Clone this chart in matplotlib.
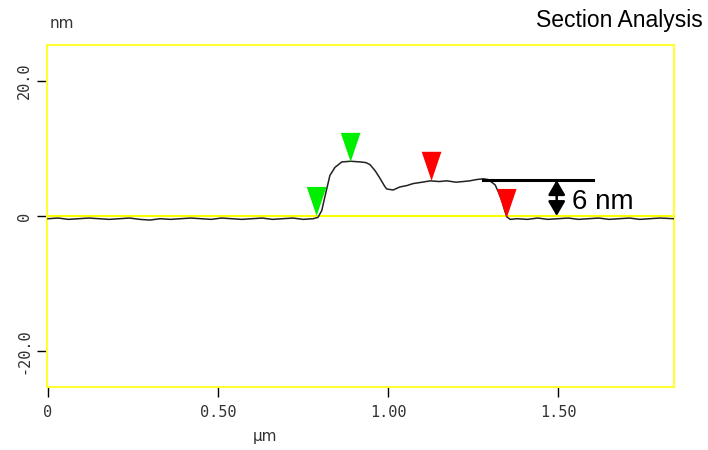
import matplotlib
matplotlib.use("Agg")
import matplotlib.pyplot as plt
from matplotlib.patches import Polygon

# ---- data ----
pos_um = [0.00, 0.03, 0.06, 0.09, 0.12, 0.15, 0.18, 0.21, 0.24, 0.27, 0.30, 0.33, 0.36,
          0.39, 0.42, 0.45, 0.48, 0.51, 0.54, 0.57, 0.60, 0.63, 0.66, 0.69, 0.72, 0.75, 0.78,
          0.794, 0.805, 0.815, 0.829, 0.844, 0.864, 0.89, 0.918, 0.935, 0.947, 0.962, 0.976,
          0.99, 0.996, 1.015, 1.035, 1.055, 1.074, 1.10, 1.124, 1.15, 1.173, 1.20, 1.221,
          1.24, 1.261, 1.28, 1.294, 1.305, 1.315, 1.325, 1.334, 1.342, 1.349, 1.359,
          1.38, 1.41, 1.44, 1.47, 1.50, 1.53, 1.56, 1.59, 1.62, 1.65, 1.68, 1.71, 1.74,
          1.77, 1.80, 1.84]
height_nm = [-0.4, -0.3, -0.5, -0.4, -0.3, -0.4, -0.5, -0.4, -0.3, -0.5, -0.6, -0.4, -0.5,
             -0.4, -0.3, -0.4, -0.5, -0.3, -0.4, -0.5, -0.4, -0.3, -0.5, -0.4, -0.3, -0.5, -0.4,
             -0.2, 0.8, 3.0, 6.0, 7.2, 8.0, 8.1, 8.0, 7.9, 7.6, 6.7, 5.6,
             4.4, 4.0, 3.85, 4.3, 4.5, 4.8, 5.0, 5.2, 5.1, 5.2, 5.0, 5.1,
             5.2, 5.4, 5.5, 5.4, 5.0, 4.6, 3.5, 2.4, 1.0, -0.1, -0.5,
             -0.4, -0.5, -0.3, -0.5, -0.4, -0.3, -0.5, -0.4, -0.3, -0.5, -0.4, -0.3, -0.5,
             -0.4, -0.3, -0.4]

cursor_x = [0.79, 0.890, 1.128, 1.349]
cursor_y = [0.0, 8.0, 5.2, -0.3]
cursor_colors = ["#00ee00", "#00ee00", "#ff0000", "#ff0000"]

step_top = 5.3
step_bottom = 0.0
step_line_x = [1.28, 1.604]
arrow_x = 1.496
step_label = "6 nm"

xticks = [0, 0.5, 1.0, 1.5]
xtick_labels = ["0", "0.50", "1.00", "1.50"]
yticks = [-20, 0, 20]
ytick_labels = ["-20.0", "0", "20.0"]

# ---- figure ----
fig = plt.figure(figsize=(7.08, 4.5), dpi=100)
ax = fig.add_axes([47/708, 63/450, 627/708, 342/450])
ax.set_xlim(-0.003, 1.841)
ax.set_ylim(-25.3, 25.3)

for s in ax.spines.values():
    s.set_color("#ffff33")
    s.set_linewidth(1.5)

ax.axhline(0, color="#ffff00", lw=1.5, zorder=1)
ax.plot(pos_um, height_nm, color="#222222", lw=1.1, zorder=3)

tri_w, tri_h = 0.029, 4.3
for cx, cy, c in zip(cursor_x, cursor_y, cursor_colors):
    ax.add_patch(Polygon([[cx, cy], [cx - tri_w, cy + tri_h], [cx + tri_w, cy + tri_h]],
                         closed=True, facecolor=c, edgecolor="none", zorder=4))

ax.plot(step_line_x, [step_top, step_top], color="black", lw=2.2, zorder=5)
ax.annotate("", xy=(arrow_x, step_bottom), xytext=(arrow_x, step_top),
            arrowprops=dict(arrowstyle="<|-|>,head_length=0.55,head_width=0.32",
                            color="black", lw=1.8,
                            mutation_scale=16, shrinkA=0, shrinkB=0), zorder=5)
ax.text(arrow_x + 0.045, 2.0, step_label, fontsize=20, family="Liberation Sans",
        va="center", ha="left", zorder=5)

ax.set_xticks(xticks)
ax.set_xticklabels(xtick_labels, family="DejaVu Sans Mono", fontsize=11, color="#333333")
ax.set_yticks(yticks)
ax.set_yticklabels(ytick_labels, family="DejaVu Sans Mono", fontsize=11, color="#333333",
                   rotation=90, va="center")
ax.tick_params(axis="both", direction="out", length=7, width=1, color="black")
ax.tick_params(axis="x", pad=6)
ax.tick_params(axis="y", pad=4)

fig.text(62/708, 1 - 24/450, "nm", fontsize=11, family="DejaVu Sans", color="#333333",
         ha="center", va="center")
fig.text(265/708, 1 - 437/450, "µm", fontsize=11, family="DejaVu Sans", color="#333333",
         ha="center", va="center")
fig.text(703/708, 1 - 20/450, "Section Analysis", fontsize=16.5, family="Liberation Sans",
         ha="right", va="center")

fig.savefig("out.png", dpi=100)
